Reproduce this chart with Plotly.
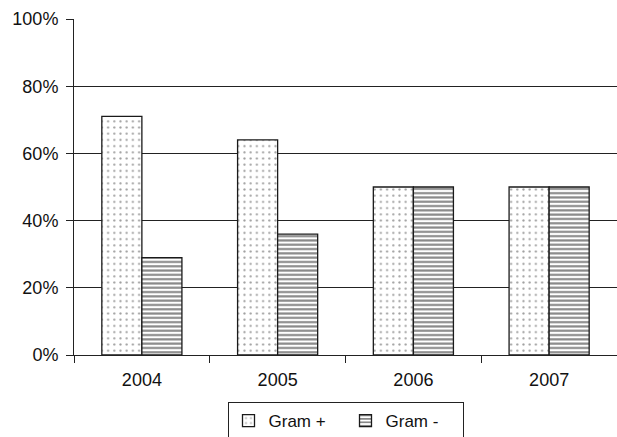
import plotly.graph_objects as go

# Share of isolates by Gram stain, per year
years = ["2004", "2005", "2006", "2007"]
gram_pos = [71, 64, 50, 50]
gram_neg = [29, 36, 50, 50]
y_ticks = [0, 20, 40, 60, 80, 100]
y_tick_text = ["0%", "20%", "40%", "60%", "80%", "100%"]

FONT = "Liberation Sans, Arial, sans-serif"

fig = go.Figure()
fig.add_trace(go.Bar(
    x=years, y=gram_pos, name="Gram +",
    marker=dict(
        color="white",
        line=dict(color="#1a1a1a", width=1.3),
        pattern=dict(shape=".", fgcolor="#444444", bgcolor="white",
                     size=6.2, solidity=0.1),
    ),
))
fig.add_trace(go.Bar(
    x=years, y=gram_neg, name="Gram -",
    marker=dict(
        color="white",
        line=dict(color="#1a1a1a", width=1.3),
        pattern=dict(shape="-", fgcolor="#111111", bgcolor="white",
                     size=4.3, solidity=0.5),
    ),
))

fig.update_layout(
    width=617, height=437,
    margin=dict(l=74, r=0, t=19, b=82, autoexpand=False),
    paper_bgcolor="white", plot_bgcolor="white",
    font=dict(family=FONT, size=18, color="#111111"),
    barmode="group", bargap=0.41, bargroupgap=0,
    showlegend=True,
    legend=dict(
        orientation="h", x=0.5, xanchor="center", y=-0.14, yanchor="top",
        bordercolor="#222222", borderwidth=1, bgcolor="white",
        font=dict(family=FONT, size=17),
        entrywidth=72, itemwidth=30,
    ),
)
fig.update_xaxes(
    type="category", showline=True, linecolor="#222222", linewidth=1,
    ticks="outside", tickson="boundaries", ticklen=7, tickcolor="#222222",
    showgrid=False, ticklabelstandoff=8,
)
fig.update_yaxes(
    range=[0, 100], tickvals=y_ticks, ticktext=y_tick_text,
    showline=True, linecolor="#222222", linewidth=1,
    ticks="outside", ticklen=7, tickcolor="#222222",
    showgrid=True, gridcolor="#222222", gridwidth=1, zeroline=False,
    ticklabelstandoff=4,
)

fig.write_html("out.html")
